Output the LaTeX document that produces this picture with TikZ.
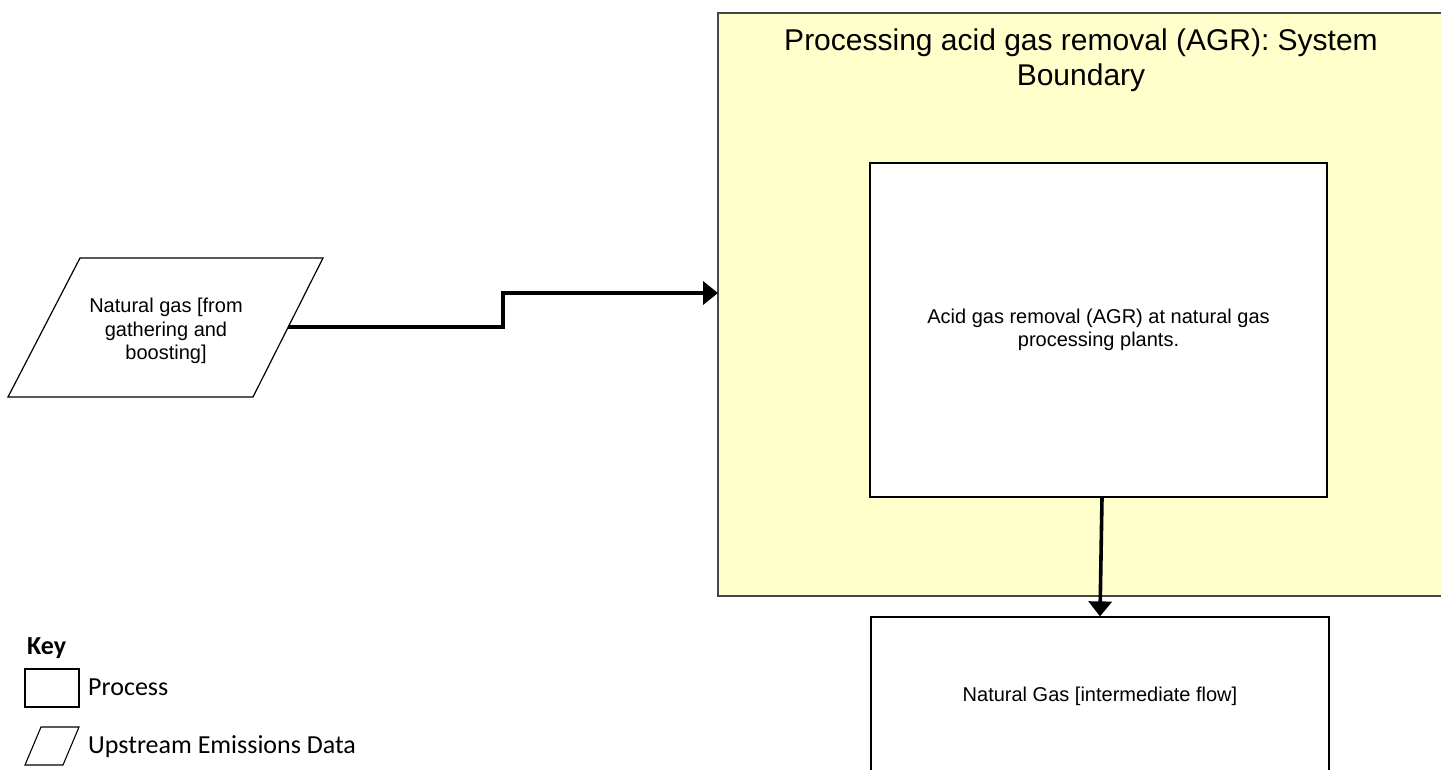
\documentclass[tikz,border=0pt]{standalone}
\usepackage{fontspec}
\setmainfont{Liberation Sans}
\newfontfamily\keyfont{Carlito}
\usetikzlibrary{arrows.meta}
\definecolor{boundfill}{RGB}{255,255,204}
\definecolor{boundline}{RGB}{70,70,70}
\begin{document}
\begin{tikzpicture}[x=1pt,y=-1pt,
  procbox/.style={draw=black,line width=1.2pt,fill=white,inner sep=0pt,
    font=\fontsize{20}{23}\selectfont,align=center},
  flow/.style={line width=3.6pt,-{Triangle[length=15pt,width=23pt]}},
  keytext/.style={font=\keyfont\fontsize{26}{30}\selectfont,inner sep=0pt,anchor=base west}]
\useasboundingbox (0,0) rectangle (1441,769);
% system boundary
\node[draw=boundline,fill=boundfill,line width=1.3pt,minimum width=728pt,minimum height=583pt,inner sep=0pt]
  (bound) at (1082,304.5) {};
\node[font=\fontsize{30}{34.5}\selectfont,align=center,inner sep=0pt,anchor=north]
  (title) at (1081,29) {Processing acid gas removal (AGR): System\\Boundary};
% process boxes
\node[procbox,minimum width=457pt,minimum height=334pt] (inner) at (1098.5,330)
  {Acid gas removal (AGR) at natural gas\\processing plants.};
\node[procbox,minimum width=458pt,minimum height=158pt] (out) at (1100,696)
  {Natural Gas [intermediate flow]};
% upstream parallelogram
\draw[line width=1.2pt,fill=white] (80,258) -- (323,258) -- (253,397) -- (8,397) -- cycle;
\node[font=\fontsize{20}{23.5}\selectfont,align=center,inner sep=0pt] (src) at (166,331)
  {Natural gas [from\\gathering and\\boosting]};
\coordinate (srcE) at (288,327);
\coordinate (bend) at (503,310);
\coordinate (bin) at (718,293);
% connectors
\draw[flow] (srcE) -| (bend) |- (bin);
\draw[flow] ([xshift=3.5pt]inner.south) -- (out.north);
% key
\node[keytext,font=\keyfont\bfseries\fontsize{26}{30}\selectfont] (keyt) at (27,654) {Key};
\node[draw=black,line width=1.1pt,minimum width=54pt,minimum height=38pt,inner sep=0pt] (keyproc) at (52,688) {};
\node[keytext] (keyproct) at (88,695) {Process};
\draw[line width=1.1pt] (41,727) -- (79,727) -- (63,765) -- (25,765) -- cycle;
\node[keytext] (keyupt) at (88,753) {Upstream Emissions Data};
\end{tikzpicture}
\end{document}
